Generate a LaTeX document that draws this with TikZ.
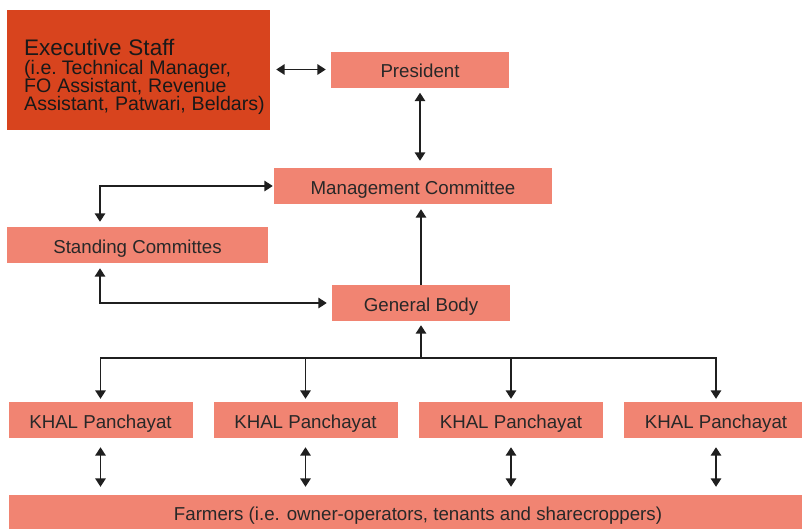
\documentclass[tikz,border=0pt]{standalone}
\usepackage{fontspec}
\setmainfont{Liberation Sans}
\usetikzlibrary{arrows.meta}
\definecolor{execor}{RGB}{216,68,30}
\definecolor{salmon}{RGB}{241,132,114}
\definecolor{txt}{RGB}{40,40,40}
\begin{document}
\begin{tikzpicture}[x=1pt,y=-1pt,
  box/.style={fill=salmon, inner sep=0pt, text=txt, minimum height=36pt,
    text height=16.5pt, text depth=0pt,
    font=\fontsize{18.7}{20}\selectfont},
  dbl/.style={line width=1.7pt, draw=black!88,
    {Triangle[width=10.5pt,length=8.5pt]}-{Triangle[width=10.5pt,length=8.5pt]}},
  sgl/.style={line width=1.7pt, draw=black!88, -{Triangle[width=10.5pt,length=8.5pt]}}]
\useasboundingbox (0,0) rectangle (802,528);
% boxes
\node[fill=execor, inner sep=0pt, minimum width=263pt, minimum height=120pt] (exec) at (138.5,70) {};
\node[anchor=north west, inner sep=0pt, text width=260pt, align=left, text=black!90] (execlabel) at (24,39)
  {{\fontsize{22.5}{24}\selectfont\spaceskip=0.3em Executive Staff\par}\fontsize{19.6}{18.6}\selectfont\spaceskip=0.3em (i.e. Technical Manager,\\FO Assistant, Revenue\\Assistant, Patwari, Beldars)};
\node[box, minimum width=178pt] (pres) at (420,69.5) {President};
\node[box, minimum width=278pt] (mc) at (413,186) {Management Committee};
\node[box, minimum width=261pt] (sc) at (137.5,245) {Standing Committes};
\node[box, minimum width=178pt] (gb) at (421,303) {General Body};
\node[box, minimum width=184pt] (k1) at (100.5,420) {KHAL Panchayat};
\node[box, minimum width=184pt] (k2) at (305.5,420) {KHAL Panchayat};
\node[box, minimum width=184pt] (k3) at (511,420) {KHAL Panchayat};
\node[box, minimum width=184pt] (k4) at (716,420) {KHAL Panchayat};
\node[box, minimum width=818pt, minimum height=34pt] (farm) at (418,512) {Farmers (i.e. owner-operators, tenants and sharecroppers)};
% connectors
\draw[dbl, shorten <=6pt, shorten >=5pt] (exec.east |- pres.west) -- (pres.west);
\draw[dbl, shorten <=5pt, shorten >=7pt] (pres.south) -- (pres.south |- mc.north);
\coordinate (c1) at (100,186);
\coordinate (c2) at (100,303);
\draw[dbl, shorten <=1pt, shorten >=5pt] (mc.west) -- (c1) -- (c1 |- sc.north);
\draw[dbl, shorten <=5pt, shorten >=5pt] (c2 |- sc.south) -- (c2) -- (gb.west);
\draw[sgl, shorten >=5pt] (gb.north) -- (gb.north |- mc.south);
\coordinate (bus) at (421,358);
\draw[sgl, shorten >=4pt] (bus) -- (gb.south);
\foreach \k in {k1,k2,k3,k4}{
  \draw[sgl, shorten >=3pt] (bus) -| (\k.north);
  \draw[dbl, shorten <=9pt, shorten >=8pt] (\k.south) -- (\k.south |- farm.north);
}
\end{tikzpicture}
\end{document}
